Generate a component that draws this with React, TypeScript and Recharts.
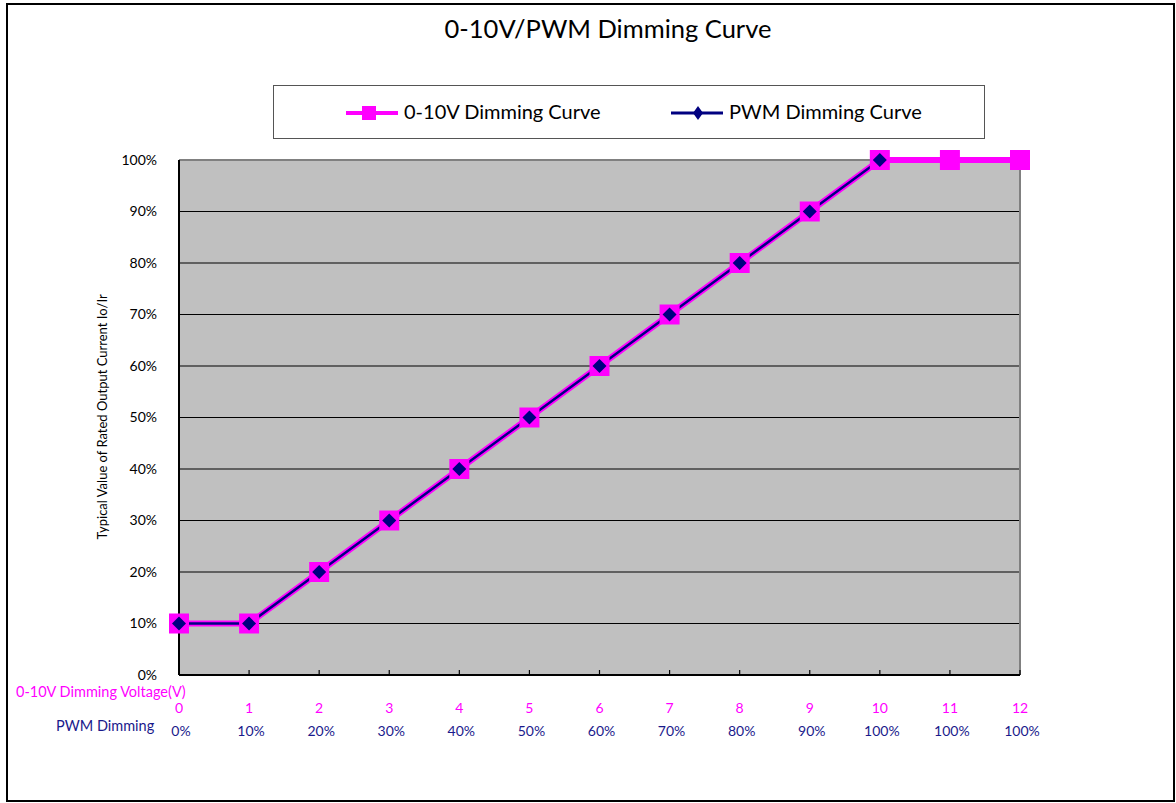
import React from 'react';
import { LineChart, Line, XAxis, YAxis, CartesianGrid, ReferenceLine, Legend } from 'recharts';

const xValues = [0, 1, 2, 3, 4, 5, 6, 7, 8, 9, 10, 11, 12];
const voltageLabels = ['0', '1', '2', '3', '4', '5', '6', '7', '8', '9', '10', '11', '12'];
const pwmLabels = ['0%', '10%', '20%', '30%', '40%', '50%', '60%', '70%', '80%', '90%', '100%', '100%', '100%'];
const curve010V = [10, 10, 20, 30, 40, 50, 60, 70, 80, 90, 100, 100, 100];
const curvePwm = [10, 10, 20, 30, 40, 50, 60, 70, 80, 90, 100, null, null];
const yTicks = [0, 10, 20, 30, 40, 50, 60, 70, 80, 90, 100];

const data = xValues.map((x, i) => ({ x, v010: curve010V[i], pwm: curvePwm[i] }));

const FONT = 'Lato, "Open Sans", sans-serif';
const PINK = '#FF00FF';
const NAVY = '#000080';
const LABEL_BLUE = '#1a1a8c';

const XTick = (props: any) => {
  const { x, y, index } = props;
  return (
    <g>
      <line x1={x} y1={y} x2={x} y2={y - 5} stroke="#000" strokeWidth={1.2} />
      <text x={x} y={y + 38} textAnchor="middle" fill={PINK} fontSize={14} fontFamily={FONT}>
        {voltageLabels[index]}
      </text>
      <text x={x + 2} y={y + 61} textAnchor="middle" fill={LABEL_BLUE} fontSize={14} fontFamily={FONT}>
        {pwmLabels[index]}
      </text>
    </g>
  );
};

const SquareDot = (props: any) => {
  const { cx, cy, value } = props;
  if (value == null || cx == null || cy == null) return <g key={props.key} />;
  return <rect key={props.key} x={cx - 10} y={cy - 10} width={20} height={20} fill={PINK} />;
};

const DiamondDot = (props: any) => {
  const { cx, cy, value } = props;
  if (value == null || cx == null || cy == null) return <g key={props.key} />;
  const r = 7;
  return (
    <polygon
      key={props.key}
      points={`${cx},${cy - r} ${cx + r},${cy} ${cx},${cy + r} ${cx - r},${cy}`}
      fill={NAVY}
    />
  );
};

const renderLegend = () => (
  <div
    style={{
      width: 712,
      height: 54,
      boxSizing: 'border-box',
      border: '1px solid #555',
      background: '#fff',
      fontFamily: FONT,
      fontSize: 20,
      color: '#000',
      position: 'relative',
    }}
  >
    <svg width={712} height={54} style={{ position: 'absolute', left: 0, top: 0 }}>
      <line x1={72} y1={27} x2={124} y2={27} stroke={PINK} strokeWidth={4} />
      <rect x={88} y={20} width={14} height={14} fill={PINK} />
      <line x1={397} y1={27} x2={449} y2={27} stroke={NAVY} strokeWidth={3} />
      <polygon points="424,20 429,27 424,34 419,27" fill={NAVY} />
    </svg>
    <span style={{ position: 'absolute', left: 130, top: 13 }}>0-10V Dimming Curve</span>
    <span style={{ position: 'absolute', left: 455, top: 13 }}>PWM Dimming Curve</span>
  </div>
);

export default function App() {
  return (
    <div style={{ position: 'absolute', left: 0, top: 0, width: 1176, height: 803, background: '#fff' }}>
      <div
        style={{
          position: 'absolute',
          left: 6,
          top: 3,
          width: 1169,
          height: 799,
          boxSizing: 'border-box',
          border: '2px solid #000',
        }}
      />
      <div
        style={{
          position: 'absolute',
          left: 0,
          top: 13,
          width: 1216,
          textAlign: 'center',
          fontFamily: FONT,
          fontSize: 25.5,
          color: '#000',
        }}
      >
        0-10V/PWM Dimming Curve
      </div>
      <div
        style={{
          position: 'absolute',
          left: 16,
          top: 684,
          fontFamily: FONT,
          fontSize: 14.5,
          lineHeight: '15px',
          color: PINK,
          whiteSpace: 'nowrap',
        }}
      >
        0-10V Dimming Voltage(V)
      </div>
      <div
        style={{
          position: 'absolute',
          left: 56,
          top: 718,
          fontFamily: FONT,
          fontSize: 14.5,
          lineHeight: '15px',
          color: LABEL_BLUE,
          whiteSpace: 'nowrap',
        }}
      >
        PWM Dimming
      </div>
      <div style={{ position: 'absolute', left: 0, top: 0 }}>
        <LineChart
          width={1176}
          height={803}
          data={data}
          margin={{ top: 160, right: 156, bottom: 68, left: 119 }}
        >
          <CartesianGrid vertical={false} stroke="#000" strokeWidth={1} fill="#C0C0C0" />
          <XAxis
            dataKey="x"
            type="number"
            domain={[0, 12]}
            ticks={xValues}
            interval={0}
            height={60}
            tickSize={0}
            tickMargin={0}
            tickLine={false}
            axisLine={{ stroke: '#000', strokeWidth: 2 }}
            tick={<XTick />}
          />
          <YAxis
            type="number"
            domain={[0, 100]}
            ticks={yTicks}
            interval={0}
            width={60}
            tickSize={0}
            tickMargin={22}
            tickLine={false}
            axisLine={{ stroke: '#000', strokeWidth: 2 }}
            tickFormatter={(v: number) => `${v}%`}
            tick={{ fill: '#000', fontSize: 14, fontFamily: FONT }}
            label={{
              value: 'Typical Value of Rated Output Current Io/Ir',
              angle: -90,
              position: 'insideLeft',
              dx: -22,
              dy: 122,
              style: { fontFamily: FONT, fontSize: 13, fill: '#000' },
            }}
          />
          <ReferenceLine y={100} stroke="#808080" strokeWidth={2} />
          <ReferenceLine x={12} stroke="#808080" strokeWidth={2} />
          <Legend
            layout="horizontal"
            verticalAlign="middle"
            align="center"
            content={renderLegend}
            wrapperStyle={{ position: 'absolute', top: 85, left: 273, width: 712, height: 54 }}
          />
          <Line
            dataKey="v010"
            name="0-10V Dimming Curve"
            stroke={PINK}
            strokeWidth={6}
            dot={SquareDot}
            activeDot={false}
            isAnimationActive={false}
          />
          <Line
            dataKey="pwm"
            name="PWM Dimming Curve"
            stroke={NAVY}
            strokeWidth={2.5}
            dot={DiamondDot}
            activeDot={false}
            connectNulls={false}
            isAnimationActive={false}
          />
        </LineChart>
      </div>
    </div>
  );
}
